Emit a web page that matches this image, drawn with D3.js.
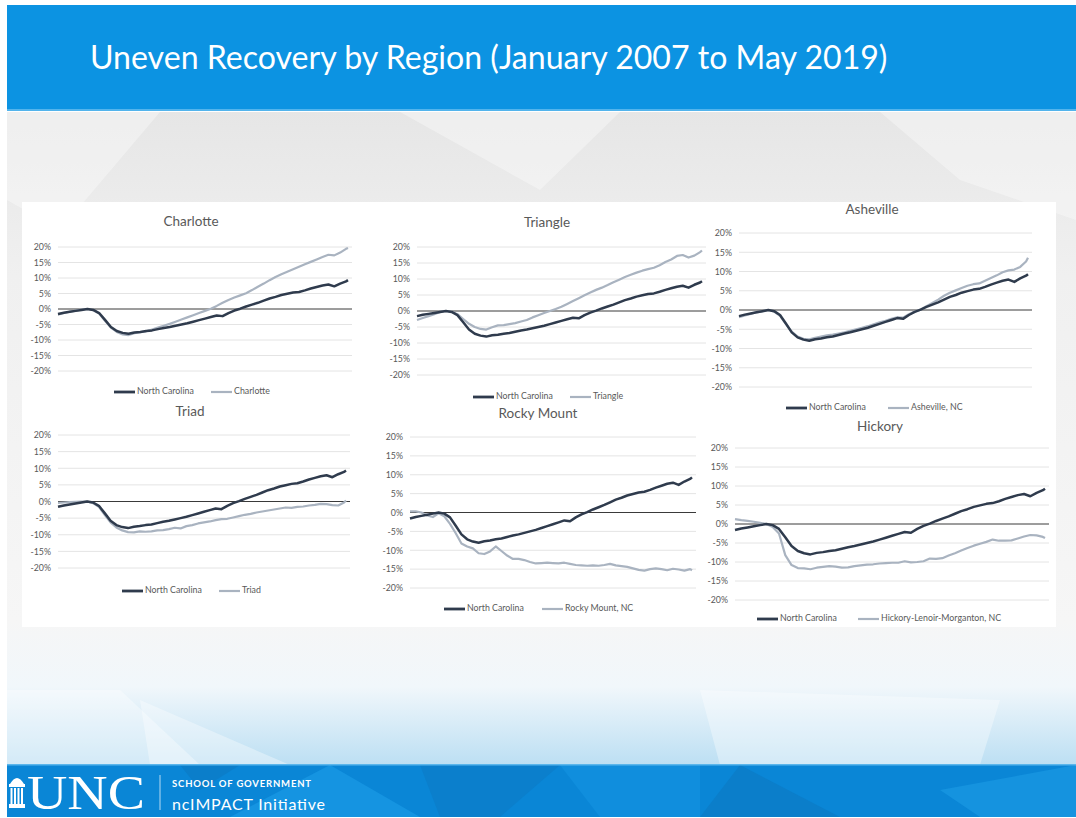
<!DOCTYPE html>
<html lang="en">
<head>
  <meta charset="UTF-8" />
  <title>Uneven Recovery by Region</title>
  <script src="https://d3js.org/d3.v7.min.js"></script>
  <style>
    body { margin: 0; background: #fff; }
    svg { display: block; font-family: Lato, "Open Sans", sans-serif; }
  </style>
</head>
<body>
  <div id="chart"></div>

  <script>
    // months since Jan 2007, read off roughly every quarter; last point is May 2019
    const months = [0, 3, 6, 9, 12, 15, 18, 21, 24, 27,
      30, 33, 36, 39, 42, 45, 48, 51, 54, 57,
      60, 63, 66, 69, 72, 75, 78, 81, 84, 87,
      90, 93, 96, 99, 102, 105, 108, 111, 114, 117,
      120, 123, 126, 129, 132, 135, 138, 141, 144, 147, 148];

    const yTicks = [20, 15, 10, 5, 0, -5, -10, -15, -20];

    // % change in employment vs. pre-recession peak
    const northCarolina = [-1.6, -1.2, -0.9, -0.6, -0.3, 0.0, -0.3, -1.3, -3.5, -5.8,
      -7.1, -7.7, -8.0, -7.6, -7.4, -7.1, -6.9, -6.5, -6.1, -5.8,
      -5.4, -5.0, -4.6, -4.1, -3.6, -3.1, -2.6, -2.1, -2.3, -1.3,
      -0.5, 0.1, 0.8, 1.4, 2.0, 2.7, 3.4, 3.9, 4.5, 4.9,
      5.3, 5.5, 6.0, 6.6, 7.1, 7.6, 7.9, 7.3, 8.2, 8.9, 9.3];

    const charlotte = [-1.8, -1.3, -0.9, -0.5, -0.2, 0.0, -0.4, -1.5, -3.8, -6.0,
      -7.4, -8.2, -8.4, -7.8, -7.5, -7.2, -6.6, -6.0, -5.4, -4.8,
      -4.1, -3.4, -2.7, -2.0, -1.3, -0.6, 0.1, 1.0, 2.0, 2.9,
      3.7, 4.4, 5.1, 6.1, 7.2, 8.2, 9.3, 10.3, 11.2, 12.0,
      12.8, 13.6, 14.4, 15.2, 16.0, 16.8, 17.5, 17.3, 18.2, 19.4, 19.7];

    const triangle = [-2.8, -2.2, -1.6, -1.0, -0.3, 0.0, -0.2, -1.0, -2.5, -4.0,
      -5.0, -5.6, -5.8, -5.1, -4.5, -4.4, -4.1, -3.8, -3.3, -2.8,
      -2.0, -1.3, -0.6, 0.0, 0.6, 1.3, 2.2, 3.1, 4.0, 4.9,
      5.8, 6.6, 7.3, 8.1, 9.0, 9.8, 10.6, 11.3, 12.0, 12.6,
      13.1, 13.5, 14.3, 15.3, 16.1, 17.2, 17.5, 16.7, 17.3, 18.4, 18.9];

    const asheville = [-1.9, -1.4, -1.0, -0.6, -0.3, 0.0, -0.4, -1.5, -3.6, -5.6,
      -6.9, -7.5, -7.6, -7.2, -6.9, -6.6, -6.4, -6.1, -5.8, -5.4,
      -5.0, -4.6, -4.2, -3.7, -3.2, -2.8, -2.3, -1.9, -2.0, -1.1,
      -0.4, 0.1, 1.0, 1.8, 2.7, 3.7, 4.5, 5.1, 5.7, 6.3,
      6.7, 6.9, 7.6, 8.3, 9.0, 9.8, 10.3, 10.5, 11.2, 12.6, 13.6];

    const triad = [-0.4, -0.3, -0.2, -0.1, 0.0, 0.0, -0.5, -1.6, -4.0, -6.3,
      -7.8, -8.7, -9.2, -9.3, -9.0, -9.1, -9.0, -8.7, -8.6, -8.3,
      -7.9, -8.1, -7.4, -7.1, -6.6, -6.3, -6.0, -5.6, -5.3, -5.2,
      -4.8, -4.4, -4.0, -3.7, -3.3, -3.0, -2.7, -2.4, -2.1, -1.8,
      -1.9, -1.6, -1.5, -1.2, -1.0, -0.7, -0.8, -1.1, -1.2, -0.3, 0.3];

    const rockyMount = [0.3, 0.3, 0.0, -0.8, -1.2, -0.2, -1.0, -3.0, -5.5, -8.2,
      -9.0, -9.5, -10.8, -11.0, -10.3, -9.0, -10.2, -11.4, -12.3, -12.3,
      -12.6, -13.1, -13.5, -13.4, -13.3, -13.4, -13.5, -13.3, -13.6, -13.9,
      -14.0, -14.1, -14.0, -14.1, -13.9, -13.6, -14.0, -14.2, -14.4, -14.8,
      -15.2, -15.4, -15.0, -14.8, -15.0, -15.3, -14.9, -15.1, -15.4, -15.0, -15.3];

    const hickory = [1.3, 1.0, 0.8, 0.6, 0.3, 0.0, -0.8, -2.5, -8.2, -10.8,
      -11.6, -11.7, -11.9, -11.5, -11.3, -11.1, -11.2, -11.5, -11.4, -11.1,
      -10.9, -10.7, -10.6, -10.4, -10.3, -10.2, -10.2, -9.8, -10.1, -10.0,
      -9.8, -9.1, -9.2, -9.0, -8.3, -7.7, -7.0, -6.3, -5.7, -5.2,
      -4.7, -4.1, -4.4, -4.4, -4.3, -3.8, -3.3, -2.9, -3.0, -3.4, -3.7];

    const titles = ["Charlotte", "Triangle", "Asheville", "Triad", "Rocky Mount", "Hickory"];
    const seriesNames = ["Charlotte", "Triangle", "Asheville, NC", "Triad", "Rocky Mount, NC", "Hickory-Lenoir-Morganton, NC"];
    const regionValues = [charlotte, triangle, asheville, triad, rockyMount, hickory];

    // where each small chart sits on the slide
    const panels = [
      {left: 58,  right: 348,  top: 247, bottom: 371, titleX: 191, titleY: 223, legendY: 392, ncX: 114, regX: 211},
      {left: 417, right: 702,  top: 247, bottom: 375, titleX: 547, titleY: 224, legendY: 397, ncX: 473, regX: 570},
      {left: 739, right: 1028, top: 233, bottom: 387, titleX: 872, titleY: 211, legendY: 408, ncX: 786, regX: 888},
      {left: 58,  right: 346,  top: 435, bottom: 568, titleX: 190, titleY: 413, legendY: 591, ncX: 122, regX: 219},
      {left: 410, right: 692,  top: 437, bottom: 588, titleX: 538, titleY: 415, legendY: 609, ncX: 444, regX: 542},
      {left: 735, right: 1045, top: 448, bottom: 600, titleX: 880, titleY: 428, legendY: 619, ncX: 757, regX: 858}
    ];

    const NC_COLOR = "#2f3b4d";
    const REG_COLOR = "#a9b3c0";

    const W = 1076, H = 818;
    const svg = d3.select("#chart").append("svg")
      .attr("width", W)
      .attr("height", H);

    const defs = svg.append("defs");
    const bodyGrad = defs.append("linearGradient")
      .attr("id", "bodyGrad").attr("x1", 0).attr("y1", 0).attr("x2", 0).attr("y2", 1);
    bodyGrad.append("stop").attr("offset", "0%").attr("stop-color", "#e6e6e6");
    bodyGrad.append("stop").attr("offset", "25%").attr("stop-color", "#f0f0f0");
    bodyGrad.append("stop").attr("offset", "78%").attr("stop-color", "#f6f6f6");
    bodyGrad.append("stop").attr("offset", "88%").attr("stop-color", "#f1f7fb");
    bodyGrad.append("stop").attr("offset", "100%").attr("stop-color", "#bcdff3");

    // slide background
    svg.append("rect").attr("x", 0).attr("y", 0).attr("width", W).attr("height", H).attr("fill", "#fff");
    svg.append("rect").attr("x", 7).attr("y", 112).attr("width", W - 7).attr("height", 653)
      .attr("fill", "url(#bodyGrad)");

    // faint geometric shapes in the body
    const shapes = [
      [[7, 112], [160, 112], [60, 230], [7, 200]],
      [[400, 112], [620, 112], [540, 190]],
      [[880, 112], [1076, 112], [1076, 220], [960, 180]],
      [[7, 690], [120, 690], [200, 765], [7, 765]],
      [[140, 700], [290, 765], [150, 765]],
      [[700, 690], [1000, 700], [980, 765], [720, 765]]
    ];
    svg.append("g").selectAll("polygon").data(shapes).join("polygon")
      .attr("points", d => d.map(p => p.join(",")).join(" "))
      .attr("fill", "#ffffff").attr("opacity", 0.35);

    // header band
    svg.append("rect").attr("x", 7).attr("y", 5).attr("width", W - 7).attr("height", 106).attr("fill", "#0c93e2");
    svg.append("rect").attr("x", 7).attr("y", 109).attr("width", W - 7).attr("height", 2).attr("fill", "#53b4ec");

    const title = svg.append("text")
      .attr("x", 90).attr("y", 69)
      .attr("fill", "#fff")
      .style("font-size", "31px")
      .text("Uneven Recovery by Region (January 2007 to May 2019)");
    const tw = title.node().getComputedTextLength();
    title.style("font-size", (31 * 798 / tw).toFixed(2) + "px");

    // white panel behind the charts
    svg.append("rect").attr("x", 22).attr("y", 202).attr("width", 1034).attr("height", 425).attr("fill", "#fff");

    const line = (x, y) => d3.line()
      .x((d, i) => x(months[i]))
      .y(d => y(d));

    panels.forEach((p, k) => {
      const g = svg.append("g");
      const x = d3.scaleLinear().domain([0, 148]).range([p.left, p.right]);
      const y = d3.scaleLinear().domain([-20, 20]).range([p.bottom, p.top]);

      // gridlines
      g.append("g").selectAll("line")
        .data(yTicks.filter(t => t !== 0))
        .join("line")
        .attr("x1", p.left).attr("x2", p.right + 4)
        .attr("y1", d => y(d)).attr("y2", d => y(d))
        .attr("stroke", "#e4e4e4").attr("stroke-width", 1);

      // y axis labels
      const ax = g.append("g")
        .attr("transform", `translate(${p.left},0)`)
        .call(d3.axisLeft(y).tickValues(yTicks).tickFormat(d => d + "%").tickSize(0).tickPadding(7));
      ax.select(".domain").remove();
      ax.selectAll("text")
        .attr("fill", "#595959")
        .style("font-size", "8.8px")
        .style("font-family", "Lato, sans-serif");

      // zero line
      g.append("line")
        .attr("x1", p.left).attr("x2", p.right + 4)
        .attr("y1", y(0)).attr("y2", y(0))
        .attr("stroke", "#3a3a3a").attr("stroke-width", 1);

      g.append("path")
        .datum(regionValues[k])
        .attr("fill", "none")
        .attr("stroke", REG_COLOR)
        .attr("stroke-width", 2.2)
        .attr("stroke-linejoin", "round")
        .attr("d", line(x, y));

      g.append("path")
        .datum(northCarolina)
        .attr("fill", "none")
        .attr("stroke", NC_COLOR)
        .attr("stroke-width", 2.5)
        .attr("stroke-linejoin", "round")
        .attr("d", line(x, y));

      g.append("text")
        .attr("x", p.titleX).attr("y", p.titleY)
        .attr("text-anchor", "middle")
        .attr("dominant-baseline", "middle")
        .attr("fill", "#595959")
        .style("font-size", "13.5px")
        .text(titles[k]);

      // legend
      const items = [
        {x: p.ncX, color: NC_COLOR, w: 2.8, name: "North Carolina"},
        {x: p.regX, color: REG_COLOR, w: 2.2, name: seriesNames[k]}
      ];
      items.forEach(it => {
        g.append("line")
          .attr("x1", it.x).attr("x2", it.x + 21)
          .attr("y1", p.legendY).attr("y2", p.legendY)
          .attr("stroke", it.color).attr("stroke-width", it.w);
        g.append("text")
          .attr("x", it.x + 23).attr("y", p.legendY)
          .attr("dominant-baseline", "middle")
          .attr("fill", "#595959")
          .style("font-size", "8.8px")
          .text(it.name);
      });
    });

    // footer band
    const foot = svg.append("g");
    foot.append("rect").attr("x", 7).attr("y", 765).attr("width", W - 7).attr("height", 52).attr("fill", "#0a86d6");
    const footShapes = [
      [[180, 765], [240, 765], [200, 790]],
      [[230, 817], [330, 765], [420, 817]],
      [[420, 765], [560, 765], [500, 817], [440, 817]],
      [[560, 765], [700, 765], [700, 817], [600, 817]],
      [[740, 765], [840, 817], [700, 817]],
      [[940, 790], [1076, 765], [1076, 817], [980, 817]]
    ];
    const footFill = ["#0b7ac4", "#1a9ae6", "#0b7cc8", "#1392df", "#0b7ac4", "#1a98e2"];
    foot.selectAll("polygon").data(footShapes).join("polygon")
      .attr("points", d => d.map(p => p.join(",")).join(" "))
      .attr("fill", (d, i) => footFill[i]).attr("opacity", 0.7);
    foot.append("rect").attr("x", 7).attr("y", 764).attr("width", W - 7).attr("height", 1.5).attr("fill", "#5ab6ec");

    // Old Well icon
    const well = foot.append("g").attr("fill", "#fff");
    well.append("path").attr("d", "M10,784 Q17,772 24,784 Z");
    well.append("rect").attr("x", 9).attr("y", 784).attr("width", 16).attr("height", 3);
    [10.5, 14, 17.5, 21].forEach(cx => {
      well.append("rect").attr("x", cx).attr("y", 788).attr("width", 2).attr("height", 16);
    });
    well.append("rect").attr("x", 9).attr("y", 804).attr("width", 16).attr("height", 4);

    foot.append("text")
      .attr("x", 27).attr("y", 809)
      .attr("fill", "#fff")
      .style("font-family", "'Liberation Serif', 'DejaVu Serif', serif")
      .style("font-size", "48px")
      .attr("textLength", 118)
      .attr("lengthAdjust", "spacingAndGlyphs")
      .text("UNC");

    foot.append("line")
      .attr("x1", 160).attr("x2", 160).attr("y1", 775).attr("y2", 810)
      .attr("stroke", "#fff").attr("stroke-opacity", 0.7);

    foot.append("text")
      .attr("x", 172).attr("y", 787)
      .attr("fill", "#fff")
      .style("font-size", "9.5px")
      .style("font-weight", "bold")
      .attr("textLength", 139)
      .text("SCHOOL OF GOVERNMENT");

    foot.append("text")
      .attr("x", 172).attr("y", 810)
      .attr("fill", "#fff")
      .style("font-size", "16px")
      .attr("textLength", 153)
      .text("ncIMPACT Initiative");
  </script>
</body>
</html>
